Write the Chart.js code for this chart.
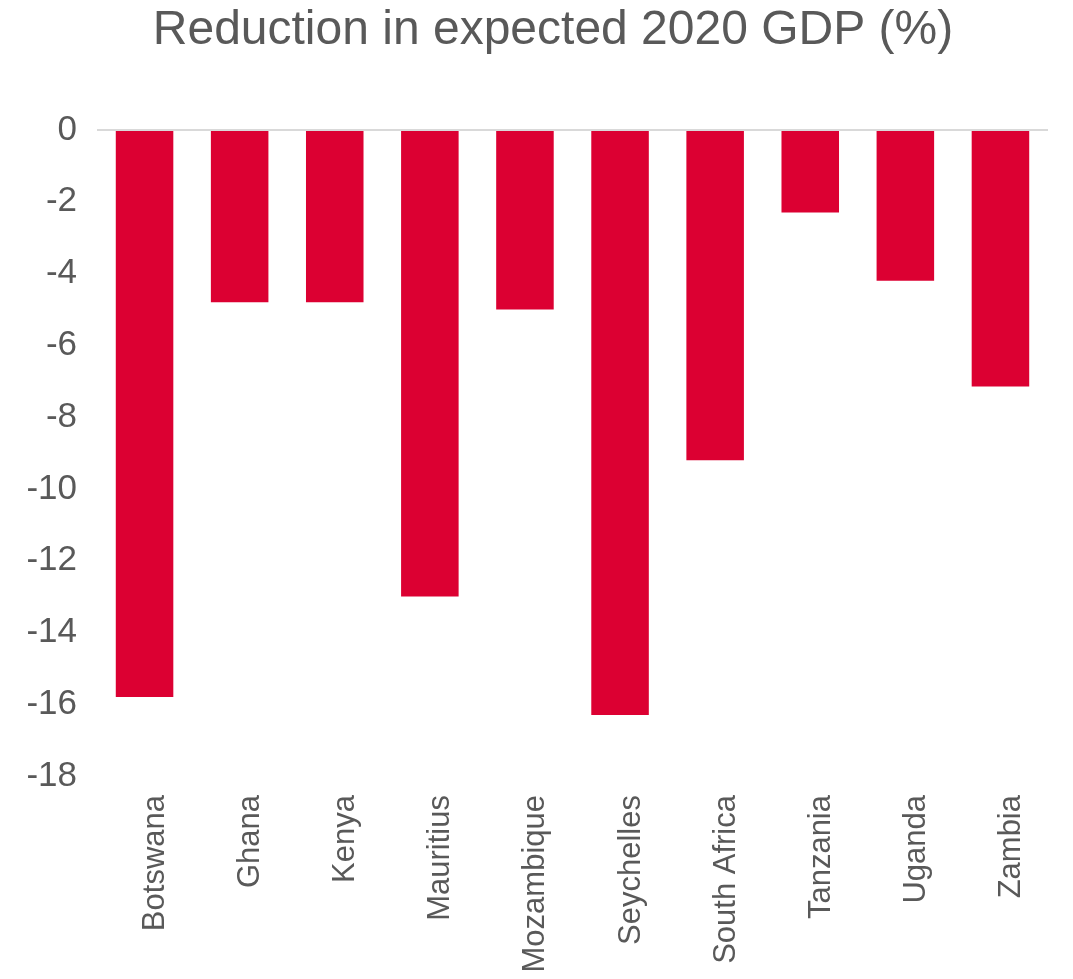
<!DOCTYPE html>
<html lang="en">
<head>
  <meta charset="UTF-8">
  <title>Reduction in expected 2020 GDP (%)</title>
  <script src="https://cdn.jsdelivr.net/npm/chart.js"></script>
  <style>
    html, body {
      margin: 0;
      padding: 0;
      background: #fff;
    }
    .wrap {
      width: 1073px;
      height: 979px;
    }
  </style>
</head>
<body>
  <div class="wrap"><canvas id="chart" width="1073" height="979"></canvas></div>
  <script>
    const countries = ['Botswana', 'Ghana', 'Kenya', 'Mauritius', 'Mozambique',
      'Seychelles', 'South Africa', 'Tanzania', 'Uganda', 'Zambia'];
    const gdpReduction = [-15.8, -4.8, -4.8, -13.0, -5.0, -16.3, -9.2, -2.3, -4.2, -7.15];
    const yTicks = [0, -2, -4, -6, -8, -10, -12, -14, -16, -18];
    const chartTitle = 'Reduction in expected 2020 GDP (%)';

    const textColor = '#595959';
    const font = 'Arial, "Liberation Sans", sans-serif';

    // title drawn by hand so it can sit a bit right of the canvas centre, like the original
    const titlePlugin = {
      id: 'fixedTitle',
      afterDraw(chart) {
        const ctx = chart.ctx;
        ctx.save();
        ctx.fillStyle = textColor;
        ctx.font = '48px ' + font;
        ctx.textAlign = 'center';
        ctx.textBaseline = 'alphabetic';
        ctx.fillText(chartTitle, 553, 44);
        ctx.restore();
      }
    };

    new Chart(document.getElementById('chart'), {
      type: 'bar',
      data: {
        labels: countries,
        datasets: [{
          data: gdpReduction,
          backgroundColor: '#dc0032',
          borderWidth: 0,
          categoryPercentage: 1,
          barPercentage: 0.605
        }]
      },
      options: {
        responsive: false,
        animation: false,
        layout: { padding: { left: 0, right: 25, top: 130, bottom: 0 } },
        plugins: {
          legend: { display: false },
          tooltip: { enabled: false },
          title: { display: false }
        },
        scales: {
          x: {
            grid: { display: false, drawTicks: false },
            border: { display: false },
            ticks: {
              color: textColor,
              font: { family: font, size: 31 },
              minRotation: 90,
              maxRotation: 90,
              autoSkip: false,
              padding: 19,
              labelOffset: 11
            },
            afterFit: s => { s.height = 979 - 776; }
          },
          y: {
            min: -18,
            max: 0,
            afterBuildTicks: s => { s.ticks = yTicks.map(v => ({ value: v })); },
            grid: {
              drawTicks: false,
              lineWidth: 2,
              color: c => (c.tick && c.tick.value === 0) ? '#d9d9d9' : 'rgba(0,0,0,0)'
            },
            border: { display: false },
            ticks: {
              color: textColor,
              font: { family: font, size: 35 },
              padding: 20
            },
            afterFit: s => { s.width = 97; }
          }
        }
      },
      plugins: [titlePlugin]
    });
  </script>
</body>
</html>
